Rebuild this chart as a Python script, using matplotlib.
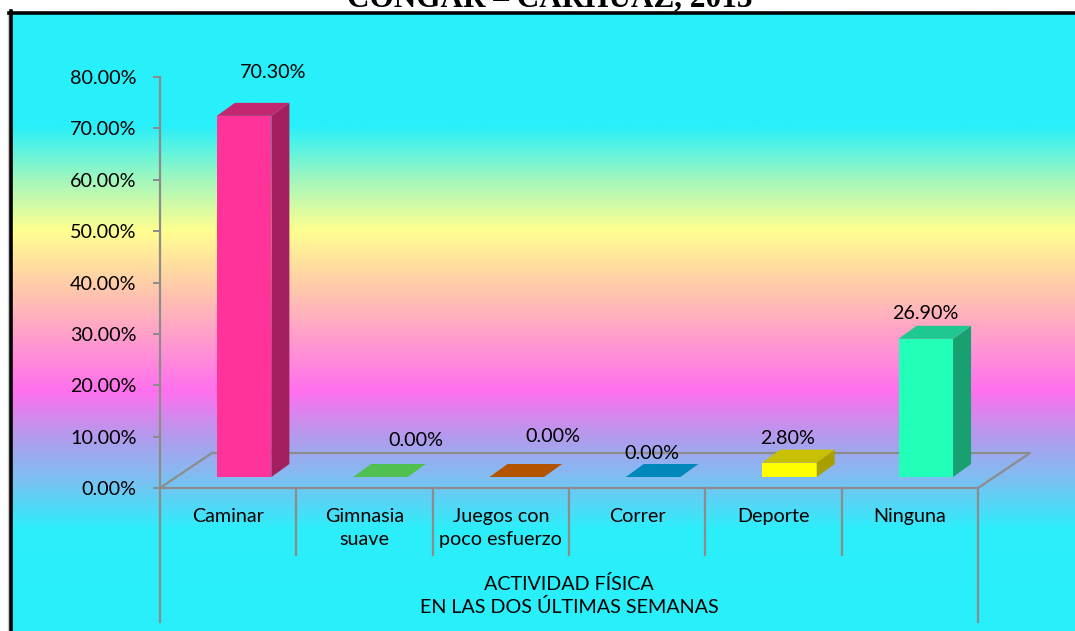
import numpy as np
import matplotlib.pyplot as plt
from matplotlib.colors import LinearSegmentedColormap
from matplotlib.patches import Polygon, Rectangle
from matplotlib.lines import Line2D

plt.rcParams['font.family'] = ['Lato', 'DejaVu Sans']

# datos
categorias = ['Caminar', 'Gimnasia\nsuave', 'Juegos con\npoco esfuerzo', 'Correr', 'Deporte', 'Ninguna']
porcentajes = [70.3, 0.0, 0.0, 0.0, 2.8, 26.9]
etiquetas = ['70.30%', '0.00%', '0.00%', '0.00%', '2.80%', '26.90%']
col_frente = ['#FF3399', '#50C050', '#B35400', '#0088BB', '#FFFF00', '#22FFB8']
col_arriba = ['#C2286F', '#50C050', '#B35400', '#0088BB', '#C8C000', '#1FC890']
col_lado = ['#A31F5E', '#3E9E3E', '#8E4300', '#006E98', '#A8A000', '#18A070']

# posicion de las etiquetas respecto a la barra (x en categorias, y en %)
lab_dx = [0.33, 0.378, 0.383, 0.109, 0.106, 0.111]
lab_dy = [10.67, 9.15, 10.12, 6.81, 6.93, 6.97]

# perspectiva 3D falsa
piso_dx, piso_dy = 0.381, 6.81
barra_dx, barra_dy = 0.117, 2.14
prof_dx, prof_dy = 0.132, 2.53
ancho = 0.40
gris = '#8C8C8C'
fs = 14.2

fig = plt.figure(figsize=(10.75, 6.31), dpi=100)
fig.patch.set_facecolor('white')

# fondo degradado
bg = fig.add_axes([12 / 1075, 0, 1 - 12 / 1075, 617 / 631])
paradas = [(0.0, '#28F0FA'), (0.18, '#28F0FA'), (0.269, '#A4F7BC'), (0.35, '#FFFF90'),
           (0.436, '#FFCDA8'), (0.519, '#FFA0CA'), (0.612, '#FF70EE'), (0.685, '#B49AEC'),
           (0.757, '#7CC0F2'), (0.836, '#2CEEFA'), (1.0, '#28F0FA')]
cmap = LinearSegmentedColormap.from_list('fondo', paradas)
bg.imshow(np.linspace(0, 1, 600).reshape(-1, 1), aspect='auto', cmap=cmap, extent=[0, 1, 1, 0])
bg.set_axis_off()

# marco
fig.add_artist(Line2D([7.5 / 1075, 7.5 / 1075], [0, 1 - 12 / 631], color='#C8C8C8', lw=1))
fig.add_artist(Line2D([10.5 / 1075, 10.5 / 1075], [0, 1 - 11 / 631], color='black', lw=2.6))
fig.add_artist(Line2D([9 / 1075, 1], [1 - 13 / 631, 1 - 13 / 631], color='black', lw=2.6))

fig.text(550 / 1075, 1 - 6 / 631, 'CONGAR – CARHUAZ, 2013', ha='center', va='baseline',
         family='Liberation Serif', weight='bold', fontsize=22.5)

ax = fig.add_axes([160 / 1075, 143 / 631, 818 / 1075, 411 / 631])
ax.set_facecolor('none')
ax.set_xlim(0, 6)
ax.set_ylim(0, 80)
for s in ['top', 'right', 'bottom']:
    ax.spines[s].set_visible(False)
ax.spines['left'].set_color(gris)
ax.spines['left'].set_linewidth(1.6)
ax.set_yticks(np.arange(0, 81, 10))
ax.set_yticklabels(['%.2f%%' % v for v in np.arange(0, 81, 10)])
ax.tick_params(axis='y', length=5, width=1.4, color=gris, labelsize=fs, pad=12)
ax.set_xticks([])

n = len(categorias)
# piso
piso = [(0, 0), (n, 0), (n + piso_dx, piso_dy), (piso_dx, piso_dy), (0, 0)]
ax.plot([p[0] for p in piso], [p[1] for p in piso], color=gris, lw=1.6, clip_on=False, zorder=2)

# separadores de categorias
for i in range(n + 1):
    fondo = -26.1 if i in (0, n) else -13.0
    ax.plot([i, i], [0, fondo], color=gris, lw=1.6, clip_on=False, zorder=2)

# barras
for i, v in enumerate(porcentajes):
    x0 = i + 0.5 - ancho / 2 + barra_dx
    x1 = x0 + ancho
    y0 = barra_dy
    y1 = y0 + v
    if v > 0:
        ax.add_patch(Rectangle((x0, y0), ancho, v, facecolor=col_frente[i], edgecolor='none',
                               clip_on=False, zorder=3))
        ax.add_patch(Polygon([(x1, y0), (x1 + prof_dx, y0 + prof_dy), (x1 + prof_dx, y1 + prof_dy), (x1, y1)],
                             facecolor=col_lado[i], edgecolor='none', clip_on=False, zorder=3))
        top = col_arriba[i]
    else:
        top = col_frente[i]
    ax.add_patch(Polygon([(x0, y1), (x1, y1), (x1 + prof_dx, y1 + prof_dy), (x0 + prof_dx, y1 + prof_dy)],
                         facecolor=top, edgecolor='none', clip_on=False, zorder=3))
    ax.text(i + 0.5 + lab_dx[i], v + lab_dy[i], etiquetas[i], ha='center', va='center',
            fontsize=fs, clip_on=False, zorder=4)

# etiquetas de categoria
for i, c in enumerate(categorias):
    ax.text(i + 0.5, -3.9, c, ha='center', va='top', fontsize=fs, linespacing=1.4)

ax.text(n / 2, -20.9, 'ACTIVIDAD FÍSICA\nEN LAS DOS ÚLTIMAS SEMANAS', ha='center', va='center',
        fontsize=fs, linespacing=1.3)

fig.savefig('out.png', dpi=100)
